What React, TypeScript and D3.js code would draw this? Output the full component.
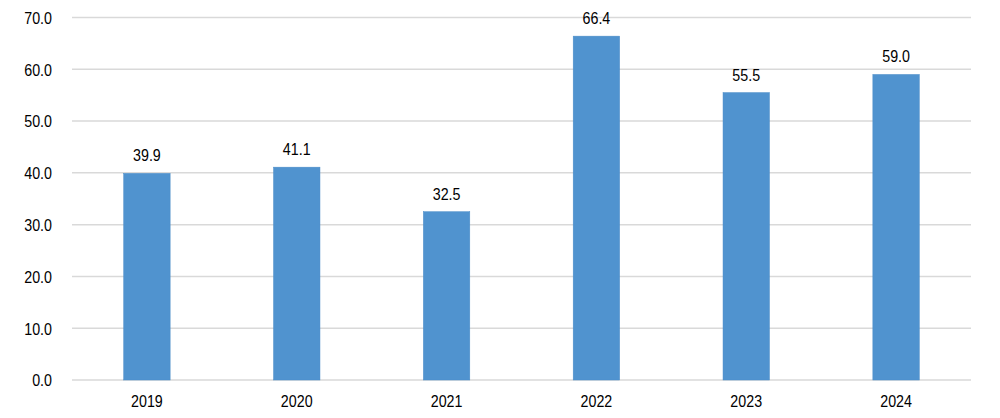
import React from "react";
import * as d3 from "d3";

const years = ["2019", "2020", "2021", "2022", "2023", "2024"];
const values = [39.9, 41.1, 32.5, 66.4, 55.5, 59.0];
const yTicks = [0, 10, 20, 30, 40, 50, 60, 70];

const font = "'Liberation Sans', Arial, sans-serif";

function Label({ x, y, anchor, children }: { x: number; y: number; anchor: "start" | "middle" | "end"; children: React.ReactNode }) {
  return (
    <text transform={`translate(${x},${y}) scale(0.84,1)`} textAnchor={anchor} fontFamily={font} fontSize={17} fill="#000">
      {children}
    </text>
  );
}

export default function App() {
  const W = 1000, H = 418;
  const x = d3.scaleBand<string>().domain(years).range([72, 971]).paddingInner(0.69).paddingOuter(0.345);
  const y = d3.scaleLinear().domain([0, 70]).range([380, 17.5]);
  return (
    <svg width={W} height={H} style={{ position: "absolute", left: 0, top: 0 }}>
      <rect width={W} height={H} fill="#fff" />
      {yTicks.map((t) => (
        <g key={t}>
          <line x1={72} x2={971} y1={y(t)} y2={y(t)} stroke="#d9d9d9" strokeWidth={1.5} />
          <Label x={52} y={y(t) + 6.3} anchor="end">{t.toFixed(1)}</Label>
        </g>
      ))}
      {years.map((yr, i) => {
        const cx = (x(yr) as number) + x.bandwidth() / 2;
        return (
          <g key={yr}>
            <rect x={x(yr)} y={y(values[i])} width={x.bandwidth()} height={y(0) - y(values[i])} fill="#5093CF" stroke="#4a8cc8" strokeWidth={0.5} />
            <Label x={cx} y={y(values[i]) - 12} anchor="middle">{values[i].toFixed(1)}</Label>
            <Label x={cx} y={407} anchor="middle">{yr}</Label>
          </g>
        );
      })}
    </svg>
  );
}
